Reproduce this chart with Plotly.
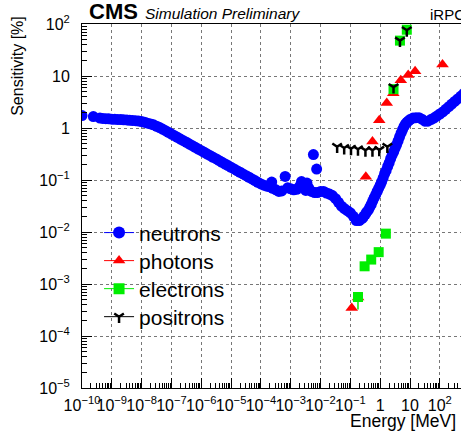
import plotly.graph_objects as go

# ---------------- data ----------------
neutron_energy = [
    1e-10, 2.4e-10,
    4e-10, 5e-10, 6.3e-10, 7.9e-10, 1e-9, 1.26e-9, 1.58e-9, 2e-9, 2.5e-9, 3.2e-9,
    4e-9, 5e-9, 6.3e-9, 7.9e-9, 1e-8, 1.26e-8, 1.58e-8, 2e-8, 2.5e-8, 3.2e-8,
    4e-8, 5e-8, 6.3e-8, 7.9e-8, 1e-7, 1.26e-7, 1.58e-7, 2e-7, 2.5e-7, 3.2e-7,
    4e-7, 5e-7, 6.3e-7, 7.9e-7, 1e-6, 1.26e-6, 1.58e-6, 2e-6, 2.5e-6, 3.2e-6,
    4e-6, 5e-6, 6.3e-6, 7.9e-6, 1e-5, 1.26e-5, 1.58e-5, 2e-5, 2.5e-5, 3.2e-5,
    4e-5, 5e-5, 6.3e-5, 7.9e-5, 1e-4, 1.26e-4, 1.58e-4, 2e-4, 2.3e-4, 2.5e-4,
    3.2e-4, 4e-4, 5e-4, 6.5e-4, 7.9e-4, 1e-3, 1.26e-3, 1.58e-3, 2e-3, 2.3e-3,
    2.8e-3, 3.2e-3, 3.5e-3, 4e-3, 5e-3, 5.75e-3, 7.4e-3, 6.3e-3, 7.9e-3, 1e-2,
    1.26e-2, 1.58e-2, 2e-2, 2.5e-2, 3.2e-2, 4e-2, 5e-2, 6.3e-2, 7.9e-2, 0.1,
    0.126, 0.158, 0.2, 0.25, 0.28, 0.32, 0.35, 0.4, 0.45, 0.5, 0.56, 0.63, 0.71, 0.79, 0.89,
    1.0, 1.12, 1.26, 1.41, 1.58, 1.78, 2.0, 2.24, 2.51, 2.82, 3.16, 3.55,
    3.98, 4.47, 5.01, 5.62, 6.31, 7.08, 7.94, 8.91, 10, 12.6, 15.8, 20,
    25.1, 31.6, 39.8, 50.1, 63.1, 79.4, 100, 126, 158, 200, 251, 316, 398, 501, 631,
]
neutron_sens = [
    1.73, 1.66,
    1.55, 1.53, 1.51, 1.50, 1.48, 1.47, 1.46, 1.45, 1.44, 1.43,
    1.41, 1.40, 1.38, 1.36, 1.33, 1.29, 1.24, 1.20, 1.15, 1.08,
    1.02, 0.955, 0.887, 0.824, 0.766, 0.711, 0.661, 0.614, 0.570, 0.530,
    0.492, 0.457, 0.425, 0.394, 0.366, 0.340, 0.316, 0.294, 0.273, 0.254,
    0.235, 0.219, 0.203, 0.189, 0.175, 0.163, 0.151, 0.141, 0.131, 0.121,
    0.113, 0.105, 0.0973, 0.0904, 0.0839, 0.0794, 0.0759, 0.0741, 0.0912, 0.0692,
    0.0646, 0.0603, 0.0617, 0.117, 0.0708, 0.0676, 0.0646, 0.0661, 0.0759, 0.0933,
    0.0794, 0.0631, 0.0871, 0.0708, 0.0603, 0.309, 0.162, 0.0575, 0.0575, 0.0603,
    0.0603, 0.0562, 0.0537, 0.0501, 0.0437, 0.0372, 0.0316, 0.0282, 0.0257, 0.0234,
    0.0200, 0.0166, 0.0166, 0.0182, 0.0200, 0.0219, 0.0240, 0.0263, 0.0300, 0.0339, 0.0394, 0.0457, 0.0525, 0.0603, 0.0692,
    0.0794, 0.0933, 0.110, 0.132, 0.151, 0.182, 0.214, 0.257, 0.302, 0.347, 0.407, 0.479,
    0.562, 0.676, 0.794, 0.933, 1.07, 1.20, 1.29, 1.37, 1.45, 1.55, 1.58, 1.58,
    1.48, 1.35, 1.35, 1.45, 1.55, 1.70, 1.86, 2.04, 2.29, 2.57, 2.88, 3.24, 3.63, 4.07, 4.57,
]

photon_energy = [0.111, 0.182, 0.33, 0.55, 0.93, 1.66, 2.75, 4.9, 8.7, 14.8, 123]
photon_sens = [3.47e-4, 5.5e-4, 0.115, 0.55, 1.41, 3.02, 4.68, 8.32, 10.5, 12.3, 16.6]

electron_energy = [0.18, 0.30, 0.50, 0.89, 1.55, 2.8, 4.6, 7.8]
electron_sens = [5.62e-4, 2.19e-3, 2.95e-3, 4.1e-3, 9.3e-3, 5.6, 47.9, 77.6]
electron_err_low = [2.4e-4, 0, 0, 0, 0, 0, 0, 0]

positron_energy = [0.036, 0.062, 0.105, 0.18, 0.32, 0.55, 0.93, 1.74, 2.8, 4.6, 7.8]
positron_sens = [0.437, 0.412, 0.398, 0.389, 0.372, 0.372, 0.380, 0.437, 6.1, 47.9, 75.9]

x_tick_vals = [1e-10, 1e-9, 1e-8, 1e-7, 1e-6, 1e-5, 1e-4, 1e-3, 1e-2, 1e-1, 1, 10, 100]
x_tick_text = ["10<sup>−10</sup>", "10<sup>−9</sup>", "10<sup>−8</sup>", "10<sup>−7</sup>",
               "10<sup>−6</sup>", "10<sup>−5</sup>", "10<sup>−4</sup>", "10<sup>−3</sup>",
               "10<sup>−2</sup>", "10<sup>−1</sup>", "1", "10", "10<sup>2</sup>"]
y_tick_vals = [1e-5, 1e-4, 1e-3, 1e-2, 1e-1, 1, 10, 100]
y_tick_text = ["10<sup>−5</sup>", "10<sup>−4</sup>", "10<sup>−3</sup>", "10<sup>−2</sup>",
               "10<sup>−1</sup>", "1", "10", "10<sup>2</sup>"]

series_names = ["neutrons", "photons", "electrons", "positrons"]
series_colors = ["#0000ff", "#ff0000", "#00ee00", "#000000"]

# ---------------- figure ----------------
FONT = "Liberation Sans, Arial, sans-serif"
fig = go.Figure()

fig.add_trace(go.Scatter(x=neutron_energy, y=neutron_sens, mode="markers", showlegend=False,
                         marker=dict(symbol="circle", size=11, color=series_colors[0])))
fig.add_trace(go.Scatter(x=photon_energy, y=photon_sens, mode="markers", showlegend=False,
                         marker=dict(symbol="triangle-up", size=11, color=series_colors[1])))
fig.add_trace(go.Scatter(x=electron_energy, y=electron_sens, mode="markers", showlegend=False,
                         error_y=dict(type="data", symmetric=False, array=[0] * len(electron_err_low),
                                      arrayminus=electron_err_low, color=series_colors[2],
                                      thickness=1.5, width=0),
                         marker=dict(symbol="square", size=10, color=series_colors[2])))
fig.add_trace(go.Scatter(x=positron_energy, y=positron_sens, mode="markers", showlegend=False,
                         marker=dict(symbol="y-down", size=8, color=series_colors[3],
                                     line=dict(color=series_colors[3], width=2.5))))

# legend entries (line + marker, as in the ROOT legend), one small legend per entry
legend_ids = ["legend", "legend2", "legend3", "legend4"]
legend_y = [0.426, 0.349, 0.272, 0.195]
legend_markers = [dict(symbol="circle", size=12, color=series_colors[0]),
                  dict(symbol="triangle-up", size=11, color=series_colors[1]),
                  dict(symbol="square", size=11, color=series_colors[2]),
                  dict(symbol="y-down", size=8, color=series_colors[3],
                       line=dict(color=series_colors[3], width=2.5))]
for name, col, mk, lid in zip(series_names, series_colors, legend_markers, legend_ids):
    fig.add_trace(go.Scatter(x=[None], y=[None], mode="lines+markers", name=name, legend=lid,
                             line=dict(color=col, width=1), marker=mk))

minor_vals_x = [m * 10.0 ** e for e in range(-10, 3) for m in range(2, 10)]
minor_vals_y = [m * 10.0 ** e for e in range(-5, 2) for m in range(2, 10)]

legend_common = dict(x=0.045, xanchor="left", yanchor="middle", bgcolor="rgba(0,0,0,0)",
                     font=dict(size=21, family=FONT, color="black"), itemwidth=30)

fig.update_layout(
    template="none",
    width=461, height=436,
    margin=dict(l=82, r=0, t=24, b=48, autoexpand=False),
    paper_bgcolor="white", plot_bgcolor="white",
    font=dict(family=FONT, color="black"),
    showlegend=True,
    legend=dict(y=legend_y[0], **legend_common),
    legend2=dict(y=legend_y[1], **legend_common),
    legend3=dict(y=legend_y[2], **legend_common),
    legend4=dict(y=legend_y[3], **legend_common),
    xaxis=dict(type="log", range=[-10, 2.71], showline=True, linecolor="black", linewidth=1,
               mirror=True, ticks="inside", ticklen=10, tickcolor="black", tickangle=0,
               tickvals=x_tick_vals, ticktext=x_tick_text, tickfont=dict(size=16),
               showgrid=True, gridcolor="#777", griddash="dot", gridwidth=1,
               minor=dict(ticks="inside", ticklen=5, tickcolor="black", tickvals=minor_vals_x,
                          showgrid=False),
               zeroline=False, automargin=False, ticklabelstandoff=3),
    yaxis=dict(type="log", range=[-5, 2], showline=True, linecolor="black", linewidth=1,
               mirror=False, ticks="inside", ticklen=10, tickcolor="black",
               tickvals=y_tick_vals, ticktext=y_tick_text, tickfont=dict(size=16),
               showgrid=True, gridcolor="#777", griddash="dot", gridwidth=1,
               minor=dict(ticks="inside", ticklen=5, tickcolor="black", tickvals=minor_vals_y,
                          showgrid=False),
               zeroline=False, automargin=False, ticklabelstandoff=8),
    annotations=[
        dict(text="<b>CMS</b>", x=0.013, y=1.033, xref="paper", yref="paper", xanchor="left",
             yanchor="middle", showarrow=False, font=dict(size=22, family=FONT)),
        dict(text="<i>Simulation Preliminary</i>", x=0.161, y=1.029, xref="paper", yref="paper",
             xanchor="left", yanchor="middle", showarrow=False, font=dict(size=15.5, family=FONT)),
        dict(text="iRPC", x=0.913, y=1.026, xref="paper", yref="paper", xanchor="left",
             yanchor="middle", showarrow=False, font=dict(size=15, family=FONT)),
        dict(text="Energy [MeV]", x=0.703, y=-0.09, xref="paper", yref="paper", xanchor="left",
             yanchor="middle", showarrow=False, font=dict(size=17.5, family=FONT)),
        dict(text="Sensitivity [%]", x=-0.169, y=0.885, xref="paper", yref="paper", xanchor="center",
             yanchor="middle", textangle=-90, showarrow=False, font=dict(size=16, family=FONT)),
    ],
)

fig.write_html("out.html", config={"displayModeBar": False},
               post_script="document.body.style.margin='0px';")
